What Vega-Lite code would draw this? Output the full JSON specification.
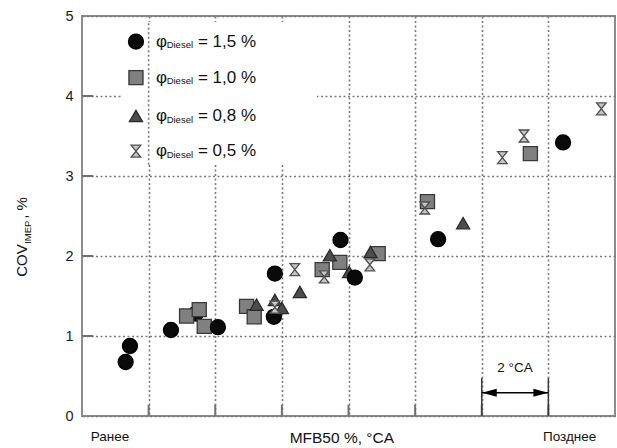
{
  "$schema": "https://vega.github.io/schema/vega-lite/v6.json",
  "width": 533,
  "height": 400,
  "autosize": {"type": "none"},
  "padding": {"left": 82, "top": 16, "right": 2, "bottom": 32},
  "background": "white",
  "config": {
    "font": "Liberation Sans",
    "view": {"stroke": "#8c8c8c", "strokeWidth": 2},
    "axis": {
      "grid": true,
      "gridColor": "#7a7a7a",
      "gridDash": [2, 2.5],
      "gridWidth": 1.6,
      "domain": false,
      "ticks": false,
      "title": null
    }
  },
  "datasets": {
    "points": [
      {"x": 3.42, "y": 1.28, "phi": "1,5"},
      {"x": 3.14, "y": 1.25, "phi": "1,0"},
      {"x": 3.52, "y": 1.33, "phi": "1,0"},
      {"x": 3.67, "y": 1.12, "phi": "1,0"},
      {"x": 4.94, "y": 1.37, "phi": "1,0"},
      {"x": 5.17, "y": 1.24, "phi": "1,0"},
      {"x": 7.21, "y": 1.83, "phi": "1,0"},
      {"x": 7.74, "y": 1.92, "phi": "1,0"},
      {"x": 8.89, "y": 2.03, "phi": "1,0"},
      {"x": 10.37, "y": 2.68, "phi": "1,0"},
      {"x": 13.46, "y": 3.28, "phi": "1,0"},
      {"x": 5.76, "y": 1.24, "phi": "1,5"},
      {"x": 5.24, "y": 1.39, "phi": "0,8"},
      {"x": 5.79, "y": 1.45, "phi": "0,8"},
      {"x": 6.0, "y": 1.35, "phi": "0,8"},
      {"x": 6.54, "y": 1.55, "phi": "0,8"},
      {"x": 7.44, "y": 2.01, "phi": "0,8"},
      {"x": 8.02, "y": 1.8, "phi": "0,8"},
      {"x": 8.66, "y": 2.05, "phi": "0,8"},
      {"x": 11.44, "y": 2.41, "phi": "0,8"},
      {"x": 5.79, "y": 1.36, "phi": "0,5"},
      {"x": 6.39, "y": 1.83, "phi": "0,5"},
      {"x": 7.27, "y": 1.74, "phi": "0,5"},
      {"x": 8.64, "y": 1.89, "phi": "0,5"},
      {"x": 10.29, "y": 2.6, "phi": "0,5"},
      {"x": 12.62, "y": 3.23, "phi": "0,5"},
      {"x": 13.27, "y": 3.5, "phi": "0,5"},
      {"x": 15.59, "y": 3.84, "phi": "0,5"},
      {"x": 1.31, "y": 0.675, "phi": "1,5"},
      {"x": 1.44, "y": 0.875, "phi": "1,5"},
      {"x": 2.67, "y": 1.075, "phi": "1,5"},
      {"x": 4.08, "y": 1.11, "phi": "1,5"},
      {"x": 5.79, "y": 1.78, "phi": "1,5"},
      {"x": 7.76, "y": 2.2, "phi": "1,5"},
      {"x": 8.19, "y": 1.73, "phi": "1,5"},
      {"x": 10.69, "y": 2.21, "phi": "1,5"},
      {"x": 14.44, "y": 3.42, "phi": "1,5"}
    ],
    "legendRows": [
      {"phi": "1,5", "lx": 1.62, "ly": 4.68, "label": "= 1,5 %"},
      {"phi": "1,0", "lx": 1.62, "ly": 4.23, "label": "= 1,0 %"},
      {"phi": "0,8", "lx": 1.62, "ly": 3.75, "label": "= 0,8 %"},
      {"phi": "0,5", "lx": 1.62, "ly": 3.31, "label": "= 0,5 %"}
    ],
    "xTicks": [{"v": 2}, {"v": 4}, {"v": 6}, {"v": 8}, {"v": 10}, {"v": 12}, {"v": 14}],
    "yTicks": [{"v": 1}, {"v": 2}, {"v": 3}, {"v": 4}]
  },
  "encoding": {
    "x": {"type": "quantitative", "scale": {"domain": [0, 16], "nice": false, "zero": false}},
    "y": {"type": "quantitative", "scale": {"domain": [0, 5], "nice": false, "zero": false}}
  },
  "layer": [
    {
      "data": {"name": "points"},
      "mark": {"type": "point", "opacity": 0},
      "encoding": {
        "x": {"field": "x", "type": "quantitative",
          "axis": {"values": [2, 4, 6, 8, 10, 12, 14], "labels": false}},
        "y": {"field": "y", "type": "quantitative",
          "axis": {"values": [0, 1, 2, 3, 4, 5], "format": "d", "labelFontSize": 14.5, "labelColor": "#1a1a1a", "labelPadding": 9}}
      }
    },
    {
      "data": {"values": [{"x1": 1.23, "x2": 7.05, "y1": 3.14, "y2": 4.925}]},
      "mark": {"type": "rect", "fill": "white"},
      "encoding": {
        "x": {"field": "x1", "type": "quantitative"},
        "x2": {"field": "x2"},
        "y": {"field": "y1", "type": "quantitative"},
        "y2": {"field": "y2"}
      }
    },
    {
      "data": {"values": [{"x": 2, "y1": 3.14, "y2": 4.925}]},
      "mark": {"type": "rule", "color": "#7a7a7a", "strokeDash": [2, 2.5], "strokeWidth": 1.6},
      "encoding": {
        "x": {"field": "x", "type": "quantitative"},
        "y": {"field": "y1", "type": "quantitative"},
        "y2": {"field": "y2"}
      }
    },
    {
      "data": {"name": "xTicks"},
      "mark": {"type": "rule", "color": "#707070", "strokeWidth": 2},
      "encoding": {
        "x": {"field": "v", "type": "quantitative"},
        "y": {"datum": 0},
        "y2": {"datum": 0.14}
      }
    },
    {
      "data": {"name": "yTicks"},
      "mark": {"type": "rule", "color": "#707070", "strokeWidth": 2},
      "encoding": {
        "y": {"field": "v", "type": "quantitative"},
        "x": {"datum": 0},
        "x2": {"datum": 0.34}
      }
    },
    {
      "data": {"values": [{"v": 12}, {"v": 14}]},
      "mark": {"type": "rule", "color": "#3a3a3a", "strokeWidth": 1.5},
      "encoding": {
        "x": {"field": "v", "type": "quantitative"},
        "y": {"datum": 0},
        "y2": {"datum": 0.475}
      }
    },
    {
      "data": {"values": [{"a": 12, "b": 14, "y": 0.29}]},
      "mark": {"type": "rule", "color": "#000", "strokeWidth": 1.5},
      "encoding": {
        "x": {"field": "a", "type": "quantitative"},
        "x2": {"field": "b"},
        "y": {"field": "y", "type": "quantitative"}
      }
    },
    {
      "data": {"values": [{"x": 12, "y": 0.29}]},
      "mark": {"type": "point", "shape": "M0,0L1,-0.27L1,0.27Z", "size": 900, "filled": true, "color": "#000", "opacity": 1},
      "encoding": {
        "x": {"field": "x", "type": "quantitative"},
        "y": {"field": "y", "type": "quantitative"}
      }
    },
    {
      "data": {"values": [{"x": 14, "y": 0.29}]},
      "mark": {"type": "point", "shape": "M0,0L-1,-0.27L-1,0.27Z", "size": 900, "filled": true, "color": "#000", "opacity": 1},
      "encoding": {
        "x": {"field": "x", "type": "quantitative"},
        "y": {"field": "y", "type": "quantitative"}
      }
    },
    {
      "data": {"values": [{"x": 13, "y": 0.6, "t": "2 °CA"}]},
      "mark": {"type": "text", "fontSize": 13.5, "color": "#111", "align": "center", "baseline": "middle"},
      "encoding": {
        "x": {"field": "x", "type": "quantitative"},
        "y": {"field": "y", "type": "quantitative"},
        "text": {"field": "t"}
      }
    },
    {
      "data": {"name": "points"},
      "mark": {"type": "point", "filled": true, "opacity": 1, "strokeWidth": 1.3},
      "encoding": {
        "x": {"field": "x", "type": "quantitative"},
        "y": {"field": "y", "type": "quantitative"},
        "shape": {"field": "phi", "type": "nominal", "legend": null,
          "scale": {"domain": ["1,5", "1,0", "0,8", "0,5"],
            "range": ["circle", "square", "triangle-up", "M-0.8,-1L0.8,-1L-0.8,1L0.8,1Z"]}},
        "fill": {"field": "phi", "type": "nominal", "legend": null,
          "scale": {"domain": ["1,5", "1,0", "0,8", "0,5"], "range": ["#0a0a0a", "#808080", "#4d4d4d", "#c6c6c6"]}},
        "stroke": {"field": "phi", "type": "nominal", "legend": null,
          "scale": {"domain": ["1,5", "1,0", "0,8", "0,5"], "range": ["#000000", "#383838", "#2a2a2a", "#505050"]}},
        "size": {"field": "phi", "type": "nominal", "legend": null,
          "scale": {"domain": ["1,5", "1,0", "0,8", "0,5"], "range": [225, 145, 195, 215]}}
      }
    },
    {
      "data": {"name": "legendRows"},
      "mark": {"type": "point", "filled": true, "opacity": 1, "strokeWidth": 1.3},
      "encoding": {
        "x": {"field": "lx", "type": "quantitative"},
        "y": {"field": "ly", "type": "quantitative"},
        "shape": {"field": "phi", "type": "nominal", "legend": null},
        "fill": {"field": "phi", "type": "nominal", "legend": null},
        "stroke": {"field": "phi", "type": "nominal", "legend": null},
        "size": {"field": "phi", "type": "nominal", "legend": null}
      }
    },
    {
      "data": {"name": "legendRows"},
      "mark": {"type": "text", "text": "φ", "fontSize": 17, "color": "#111", "align": "left", "baseline": "middle"},
      "encoding": {
        "x": {"datum": 2.22},
        "y": {"field": "ly", "type": "quantitative"}
      }
    },
    {
      "data": {"name": "legendRows"},
      "mark": {"type": "text", "text": "Diesel", "fontSize": 9.5, "color": "#111", "align": "left", "baseline": "middle", "dx": 10.7, "dy": 3.5},
      "encoding": {
        "x": {"datum": 2.22},
        "y": {"field": "ly", "type": "quantitative"}
      }
    },
    {
      "data": {"name": "legendRows"},
      "mark": {"type": "text", "fontSize": 17, "color": "#111", "align": "left", "baseline": "middle", "dx": 42},
      "encoding": {
        "x": {"datum": 2.22},
        "y": {"field": "ly", "type": "quantitative"},
        "text": {"field": "label"}
      }
    },
    {
      "data": {"values": [{"x": 0.84, "t": "Ранее"}, {"x": 14.64, "t": "Позднее"}]},
      "mark": {"type": "text", "fontSize": 13.5, "color": "#111", "align": "center", "baseline": "middle", "dy": 21},
      "encoding": {
        "x": {"field": "x", "type": "quantitative"},
        "y": {"datum": 0},
        "text": {"field": "t"}
      }
    },
    {
      "data": {"values": [{"x": 7.8, "t": "MFB50 %, °CA"}]},
      "mark": {"type": "text", "fontSize": 15.5, "color": "#111", "align": "center", "baseline": "middle", "dy": 22},
      "encoding": {
        "x": {"field": "x", "type": "quantitative"},
        "y": {"datum": 0},
        "text": {"field": "t"}
      }
    },
    {
      "data": {"values": [{"y": 1.74}]},
      "mark": {"type": "text", "text": "COV", "fontSize": 15, "color": "#111", "angle": 270, "align": "left", "baseline": "alphabetic", "dy": -55},
      "encoding": {
        "x": {"datum": 0},
        "y": {"field": "y", "type": "quantitative"}
      }
    },
    {
      "data": {"values": [{"y": 1.74}]},
      "mark": {"type": "text", "text": "IMEP", "fontSize": 9.5, "color": "#111", "angle": 270, "align": "left", "baseline": "alphabetic", "dx": 33, "dy": -51},
      "encoding": {
        "x": {"datum": 0},
        "y": {"field": "y", "type": "quantitative"}
      }
    },
    {
      "data": {"values": [{"y": 1.74}]},
      "mark": {"type": "text", "text": ",   %", "fontSize": 15, "color": "#111", "angle": 270, "align": "left", "baseline": "alphabetic", "dx": 58, "dy": -55},
      "encoding": {
        "x": {"datum": 0},
        "y": {"field": "y", "type": "quantitative"}
      }
    }
  ]
}
